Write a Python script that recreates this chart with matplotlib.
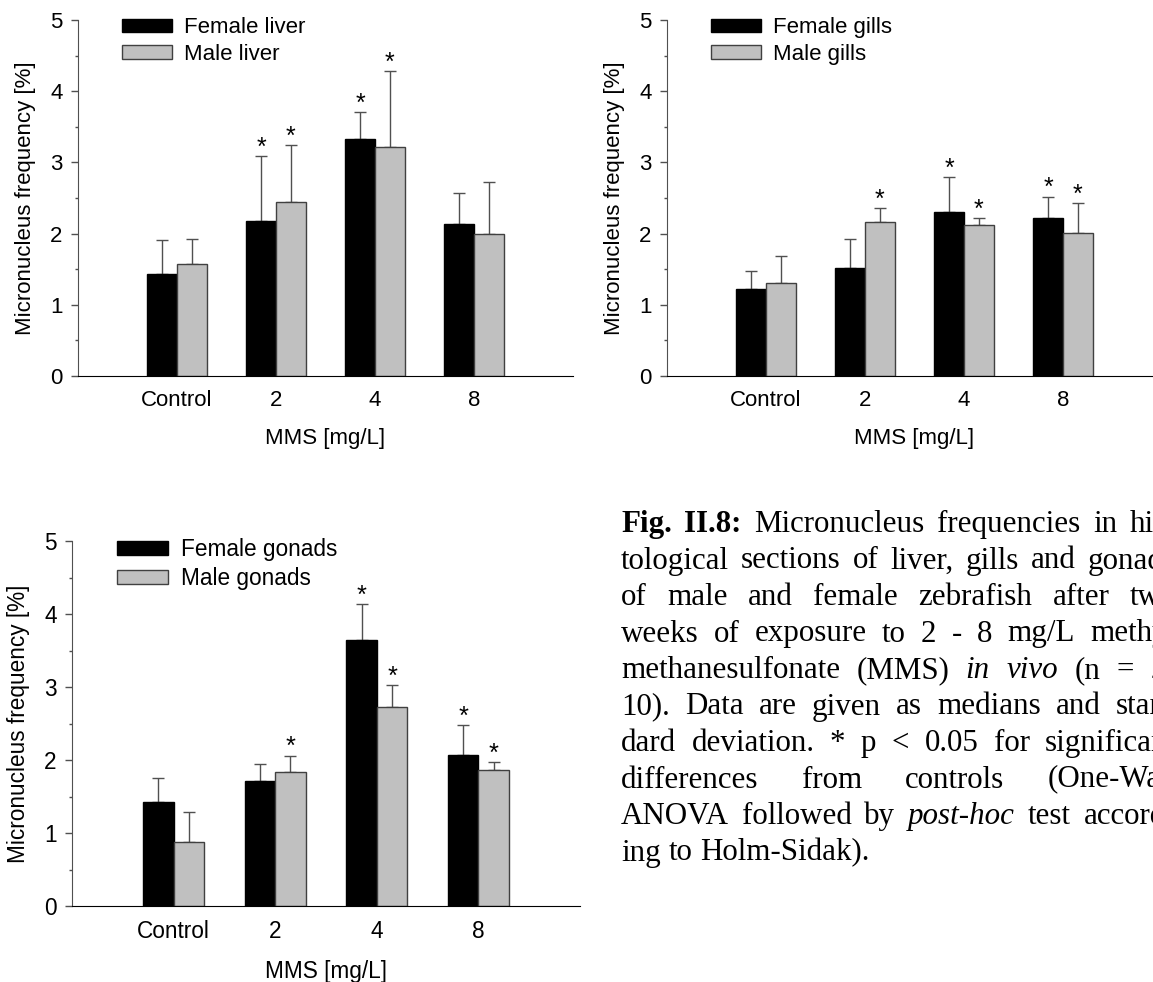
import matplotlib
matplotlib.use('Agg')
import matplotlib.pyplot as plt
import numpy as np
from matplotlib.ticker import MultipleLocator

W, H = 1153, 982

# Data
categories = ['Control', '2', '4', '8']

liver_female = [1.43, 2.18, 3.33, 2.14]
liver_female_sd = [0.48, 0.91, 0.38, 0.43]
liver_male = [1.58, 2.44, 3.21, 2.00]
liver_male_sd = [0.34, 0.80, 1.07, 0.72]
liver_female_sig = [False, True, True, False]
liver_male_sig = [False, True, True, False]

gills_female = [1.22, 1.52, 2.31, 2.22]
gills_female_sd = [0.26, 0.40, 0.48, 0.30]
gills_male = [1.31, 2.16, 2.12, 2.01]
gills_male_sd = [0.37, 0.20, 0.10, 0.42]
gills_female_sig = [False, False, True, True]
gills_male_sig = [False, True, True, True]

gonads_female = [1.42, 1.71, 3.65, 2.07]
gonads_female_sd = [0.33, 0.23, 0.49, 0.41]
gonads_male = [0.88, 1.84, 2.72, 1.86]
gonads_male_sd = [0.41, 0.22, 0.31, 0.11]
gonads_female_sig = [False, False, True, True]
gonads_male_sig = [False, True, True, True]

SANS = 'Liberation Sans'
SERIF = 'Liberation Serif'
GREY = '#c0c0c0'
LINE = '#505050'


def panel(rect, fem, fem_sd, mal, mal_sd, fem_sig, mal_sig, labels, fs):
    ax = fig.add_axes(rect)
    x = np.arange(1, len(categories) + 1)
    w = 0.30
    ax.bar(x - w, fem, w, align='edge', color='black', edgecolor='black',
           linewidth=1, zorder=2, label=labels[0])
    ax.bar(x, mal, w, align='edge', color=GREY, edgecolor='#404040',
           linewidth=1, zorder=2, label=labels[1])
    for xs, m, sd in [(x - w / 2, fem, fem_sd), (x + w / 2, mal, mal_sd)]:
        ax.errorbar(xs, m, yerr=[np.zeros(len(m)), sd], fmt='none',
                    ecolor=LINE, elinewidth=1, capsize=4.3, capthick=1, zorder=1)
    for xs, m, sd, sig in [(x - w / 2, fem, fem_sd, fem_sig),
                           (x + w / 2, mal, mal_sd, mal_sig)]:
        for xi, mi, si, s in zip(xs, m, sd, sig):
            if s:
                ax.annotate('*', (xi, mi + si), xytext=(0, 1),
                            textcoords='offset points', ha='center',
                            va='baseline', fontsize=fs + 2, family=SANS)
    ax.set_xlim(0, 5)
    ax.set_ylim(0, 5)
    ax.set_xticks(x)
    ax.set_xticklabels(categories, fontsize=fs, family=SANS)
    ax.tick_params(axis='x', length=0, pad=10)
    ax.yaxis.set_major_locator(MultipleLocator(1))
    ax.yaxis.set_minor_locator(MultipleLocator(0.5))
    ax.tick_params(axis='y', which='major', length=5, width=1,
                   color=LINE, labelsize=fs, pad=6)
    ax.tick_params(axis='y', which='minor', length=2.5, width=1, color=LINE)
    for lab in ax.get_yticklabels():
        lab.set_family(SANS)
    ax.spines['top'].set_visible(False)
    ax.spines['right'].set_visible(False)
    ax.spines['left'].set_color(LINE)
    ax.spines['bottom'].set_color('black')
    ax.set_xlabel('MMS [mg/L]', fontsize=fs, family=SANS, labelpad=12)
    ax.set_ylabel('Micronucleus frequency [%]', fontsize=fs, family=SANS,
                  labelpad=10)
    ax.legend(loc='upper left', bbox_to_anchor=(0.088, 1.008), frameon=False,
              prop={'family': SANS, 'size': fs}, handlelength=2.27,
              handleheight=0.55, handletextpad=0.55, labelspacing=0.25,
              borderpad=0, borderaxespad=0)
    return ax


fig = plt.figure(figsize=(W / 100, H / 100), dpi=100)

panel([78 / W, 1 - 376 / H, 495 / W, 356 / H],
      liver_female, liver_female_sd, liver_male, liver_male_sd,
      liver_female_sig, liver_male_sig, ['Female liver', 'Male liver'], 16)
panel([667 / W, 1 - 376 / H, 495 / W, 356 / H],
      gills_female, gills_female_sd, gills_male, gills_male_sd,
      gills_female_sig, gills_male_sig, ['Female gills', 'Male gills'], 16)
panel([72 / W, 1 - 906 / H, 508 / W, 365 / H],
      gonads_female, gonads_female_sd, gonads_male, gonads_male_sd,
      gonads_female_sig, gonads_male_sig, ['Female gonads', 'Male gonads'], 16.3)

# Caption, justified line by line (runs past the right edge, as in the source)
caption = [
    ("Fig. II.8: Micronucleus frequencies in his-", {"Fig.", "II.8:"}, set()),
    ("tological sections of liver, gills and gonads", set(), set()),
    ("of male and female zebrafish after two", set(), set()),
    ("weeks of exposure to 2 - 8 mg/L methyl", set(), set()),
    ("methanesulfonate (MMS) in vivo (n = 2-", set(), {"in", "vivo"}),
    ("10). Data are given as medians and stan-", set(), set()),
    ("dard deviation. * p < 0.05 for significant", set(), set()),
    ("differences from controls (One-Way", set(), set()),
    ("ANOVA followed by post-hoc test accord-", set(), {"post-hoc"}),
    ("ing to Holm-Sidak).", set(), set()),
]
cap_left, cap_right = 621, 1176
cap_base, cap_step = 532, 36.5
cap_fs = 22.3
renderer = fig.canvas.get_renderer()
for i, (line, bold, ital) in enumerate(caption):
    words = line.split(' ')
    texts = []
    for wd in words:
        t = fig.text(0, 1 - (cap_base + i * cap_step) / H, wd,
                     family=SERIF, fontsize=cap_fs, va='baseline',
                     weight='bold' if wd in bold else 'normal',
                     style='italic' if wd in ital else 'normal')
        texts.append(t)
    widths = [t.get_window_extent(renderer).width for t in texts]
    if i < len(caption) - 1:
        gap = (cap_right - cap_left - sum(widths)) / (len(words) - 1)
    else:
        gap = 0.25 * cap_fs * 100 / 72
    xpos = cap_left
    for t, wpx in zip(texts, widths):
        t.set_x(xpos / W)
        xpos += wpx + gap

fig.savefig('out.png', dpi=100)
